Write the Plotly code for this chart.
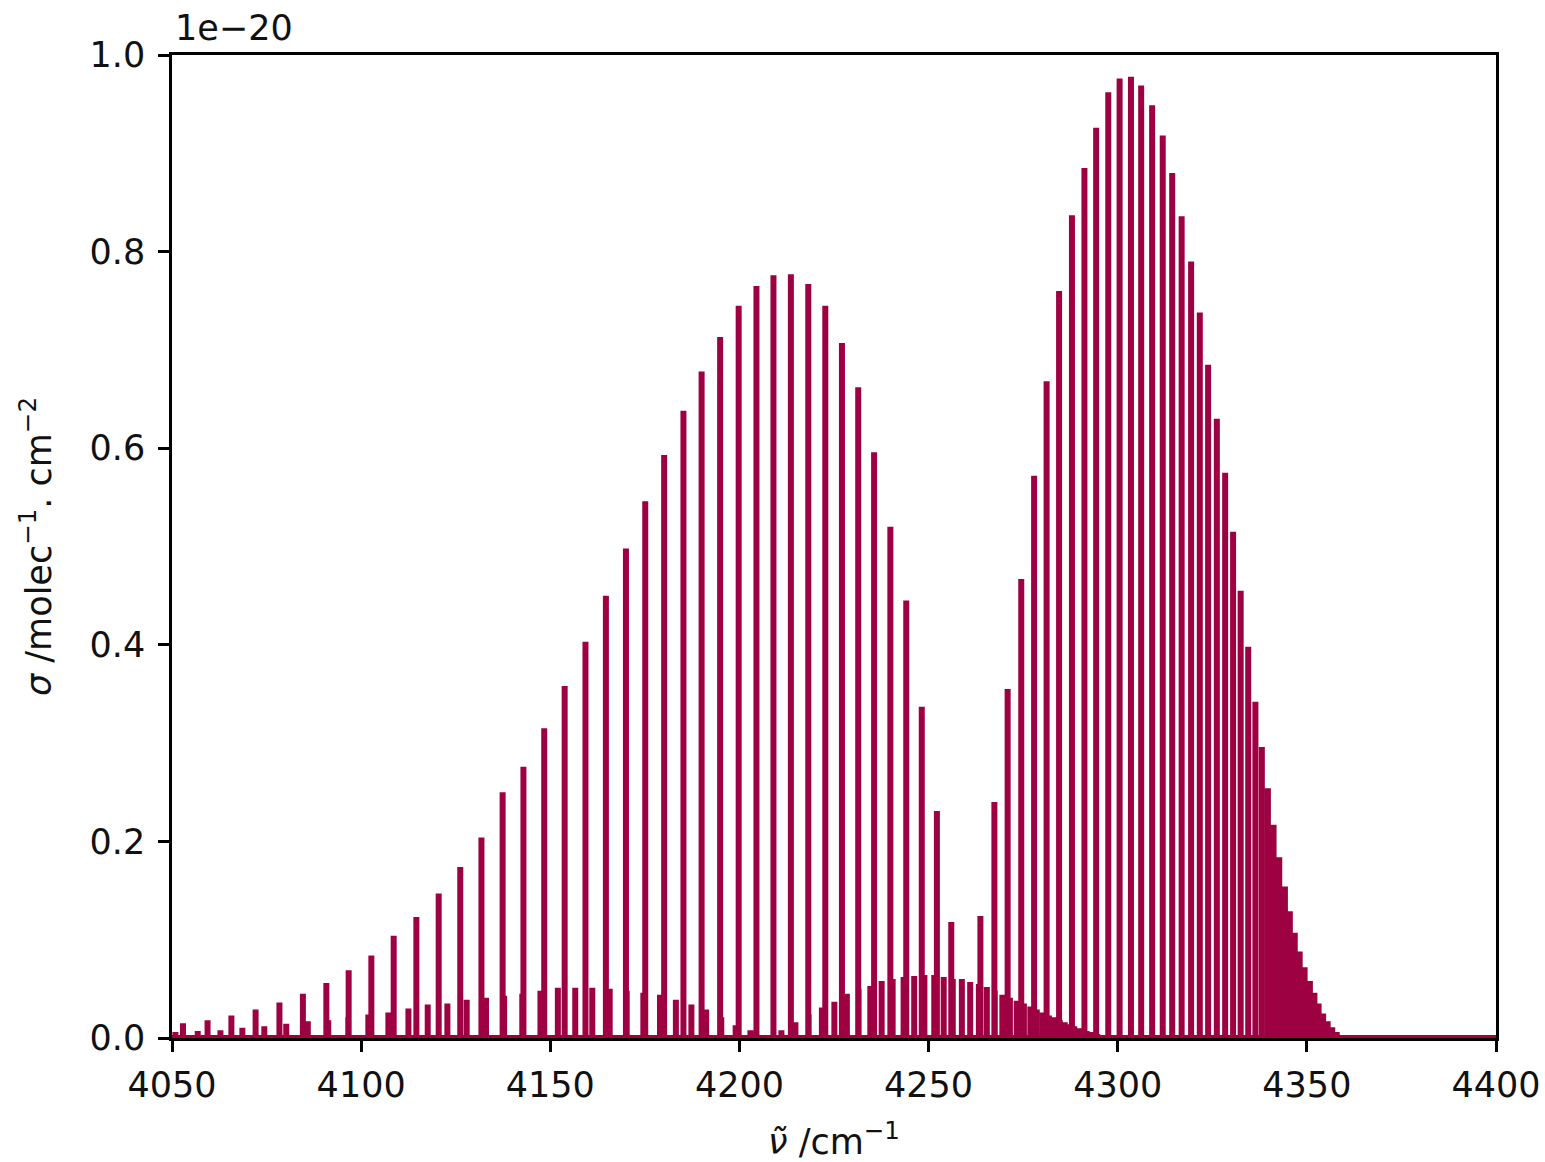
import plotly.graph_objects as go

# CO first-overtone absorption: stick positions (cm^-1) and cross sections (units of 1e-20)
# v=2<-0 band, P branch then R branch
nu_20 = [4052.9, 4059.4, 4065.7, 4072.1, 4078.4, 4084.6, 4090.8, 4096.7, 4102.7, 4108.6,
         4114.6, 4120.5, 4126.2, 4131.8, 4137.4, 4142.9, 4148.4, 4153.8, 4159.3, 4164.7,
         4170.0, 4175.1, 4180.1, 4185.2, 4190.0, 4194.9, 4199.8, 4204.5, 4209.0, 4213.6,
         4218.2, 4222.7, 4227.1, 4231.4, 4235.6, 4239.9, 4244.1, 4248.2, 4252.2, 4256.0,
         4263.7, 4267.4, 4270.9, 4274.5, 4277.9, 4281.2, 4284.5, 4287.9, 4291.2, 4294.3,
         4297.5, 4300.5, 4303.5, 4306.2, 4309.1, 4311.9, 4314.4, 4316.9, 4319.4, 4321.7,
         4323.9, 4326.2, 4328.4, 4330.5, 4332.5, 4334.5, 4336.4, 4338.1, 4339.7, 4341.2,
         4342.7, 4344.2, 4345.5, 4346.8, 4348.1, 4349.4, 4350.8, 4352.0, 4353.1, 4354.3,
         4355.5, 4356.7, 4357.9, 4359.1, 4360.2]
sigma_20 = [0.015, 0.018, 0.023, 0.029, 0.036, 0.045, 0.056, 0.069, 0.084, 0.104,
            0.123, 0.147, 0.174, 0.204, 0.250, 0.276, 0.315, 0.358, 0.403, 0.450,
            0.498, 0.546, 0.593, 0.638, 0.678, 0.713, 0.745, 0.765, 0.776, 0.777,
            0.767, 0.745, 0.707, 0.662, 0.596, 0.520, 0.445, 0.337, 0.231, 0.118,
            0.124, 0.240, 0.355, 0.467, 0.572, 0.668, 0.760, 0.837, 0.885, 0.926,
            0.962, 0.976, 0.978, 0.969, 0.949, 0.918, 0.880, 0.836, 0.790, 0.738,
            0.685, 0.630, 0.575, 0.515, 0.455, 0.398, 0.342, 0.296, 0.254, 0.217,
            0.184, 0.154, 0.129, 0.107, 0.088, 0.072, 0.058, 0.046, 0.035, 0.025,
            0.017, 0.011, 0.006, 0.003, 0.001]

# v=3<-1 hot band, P branch then R branch
nu_31 = [4050.9, 4056.8, 4062.8, 4068.6, 4074.4, 4080.2, 4085.9, 4091.3, 4096.6, 4101.9,
         4107.2, 4112.5, 4117.6, 4122.8, 4127.9, 4133.0, 4137.8, 4142.6, 4147.4, 4152.0,
         4156.6, 4161.1, 4165.7, 4170.2, 4174.6, 4179.0, 4183.2, 4187.3, 4191.2, 4195.2,
         4199.0, 4202.9,
         4211.1, 4214.8, 4218.3, 4221.8, 4225.1, 4228.4, 4231.5, 4234.6, 4237.6, 4240.5,
         4243.4, 4246.2, 4248.9, 4251.5, 4254.0, 4256.4, 4258.8, 4261.0, 4263.3, 4265.4,
         4267.5, 4269.5, 4271.5, 4273.3, 4275.2, 4276.9, 4278.6, 4280.2, 4281.8, 4283.2,
         4284.7, 4286.0, 4287.3, 4288.5, 4289.7, 4290.8, 4291.8, 4292.7, 4293.7, 4294.6,
         4295.4, 4296.2]
sigma_31 = [0.006, 0.007, 0.008, 0.0105, 0.012, 0.0145, 0.017, 0.018, 0.021, 0.024,
            0.026, 0.030, 0.034, 0.035, 0.039, 0.041, 0.043, 0.045, 0.048, 0.051,
            0.051, 0.051, 0.050, 0.048, 0.046, 0.044, 0.039, 0.034, 0.029, 0.021,
            0.013, 0.008,
            0.008, 0.016, 0.024, 0.031, 0.037, 0.045, 0.050, 0.053, 0.058, 0.060,
            0.062, 0.063, 0.064, 0.064, 0.062, 0.060, 0.060, 0.057, 0.055, 0.052,
            0.048, 0.044, 0.041, 0.038, 0.035, 0.032, 0.029, 0.026, 0.023, 0.021,
            0.018, 0.016, 0.014, 0.012, 0.010, 0.009, 0.007, 0.006, 0.005, 0.004,
            0.003, 0.002]

x_range = [4050, 4400]
y_range = [0.0, 1.0]
x_ticks = [4050, 4100, 4150, 4200, 4250, 4300, 4350, 4400]
y_ticks = [0.0, 0.2, 0.4, 0.6, 0.8, 1.0]

COLOR = "#9e0142"
FONT = "DejaVu Sans"
FSIZE = 35

# merge both bands into one stick spectrum sampled on a zero baseline
lines = sorted(zip(nu_20 + nu_31, sigma_20 + sigma_31))
xs, ys = [x_range[0]], [0.0]
for nu, s in lines:
    xs += [nu, nu, nu]
    ys += [0.0, s, 0.0]
xs.append(x_range[1])
ys.append(0.0)

fig = go.Figure()
fig.add_trace(go.Scatter(
    x=xs, y=ys, mode="lines",
    line=dict(color=COLOR, width=6, simplify=False),
    hoverinfo="skip", showlegend=False,
))

axis_common = dict(
    showline=True, linecolor="black", linewidth=2.5, mirror=True,
    ticks="outside", ticklen=11, tickwidth=2.5, tickcolor="black",
    showgrid=False, zeroline=False, automargin=False,
    tickfont=dict(family=FONT, size=FSIZE, color="#111"),
)

fig.update_layout(
    width=1545, height=1162,
    margin=dict(l=172, r=49, t=55, b=124),
    paper_bgcolor="white", plot_bgcolor="white",
    font=dict(family=FONT, size=FSIZE, color="#111"),
    xaxis=dict(
        range=x_range, tickvals=x_ticks, ticklabelstandoff=3,
        title=dict(text="<i>ν̃</i> /cm<sup>−1</sup>", standoff=28,
                   font=dict(family=FONT, size=FSIZE, color="#111")),
        **axis_common,
    ),
    yaxis=dict(
        range=y_range, tickvals=y_ticks, tickformat=".1f", ticklabelstandoff=6,
        title=dict(text="<i>σ</i> /molec<sup>−1</sup>. cm<sup>−2</sup>", standoff=28,
                   font=dict(family=FONT, size=FSIZE, color="#111")),
        **axis_common,
    ),
    annotations=[dict(
        text="1e−20", xref="paper", yref="paper", x=0, y=1,
        xanchor="left", yanchor="bottom", xshift=1, yshift=5,
        showarrow=False, font=dict(family=FONT, size=FSIZE, color="#111"),
    )],
)

fig.write_html("out.html")
